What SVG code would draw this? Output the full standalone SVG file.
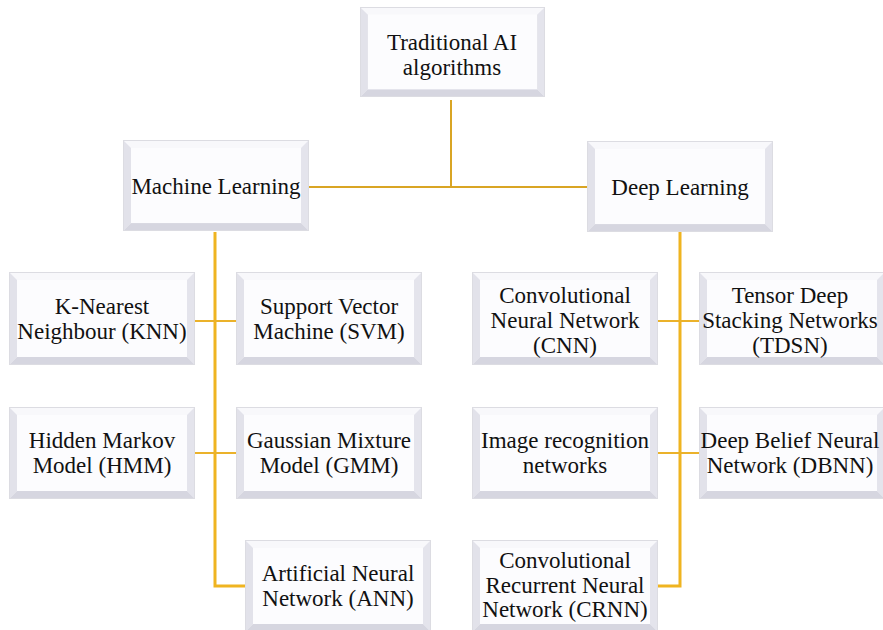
<svg xmlns="http://www.w3.org/2000/svg" xmlns:xlink="http://www.w3.org/1999/xlink" width="883" height="630" viewBox="0 0 883 630">
<defs>
<symbol id="bevel" viewBox="0 0 186 92" preserveAspectRatio="none">
<rect x="0.5" y="0.5" width="185" height="91" fill="#fbfbfd" stroke="#dcdce2" stroke-width="1"/>
<polygon points="1,1 185,1 178,8 8,8" fill="#f8f8fb"/>
<polygon points="1,1 8,8 8,84 1,91" fill="#e2e2ea"/>
<polygon points="185,1 185,91 178,84 178,8" fill="#e4e4ec"/>
<polygon points="1,91 8,84 178,84 185,91" fill="#d6d6e0"/>
<rect x="8" y="8" width="170" height="76" fill="#fcfcfe"/>
</symbol>
</defs>
<style>
.t{font-family:'Liberation Serif','Times New Roman',Tinos,'DejaVu Serif',serif;font-size:23px;fill:#111;text-anchor:middle}
.ln{stroke:#EBB22A;fill:none;stroke-width:2}
.tr{stroke:#EFB420;fill:none;stroke-width:3}
</style>
<rect width="883" height="630" fill="#ffffff"/>
<g id="connectors">
<line class="ln" x1="451" y1="100" x2="451" y2="187" style="stroke:#D9A524"/>
<line class="ln" x1="309" y1="187" x2="588" y2="187" style="stroke:#D9A524"/>
<polyline class="tr" points="215,232 215,586 245,586"/>
<line class="ln" x1="195" y1="321" x2="236" y2="321"/>
<line class="ln" x1="195" y1="453" x2="236" y2="453"/>
<polyline class="tr" points="680,232 680,586 658,586"/>
<line class="ln" x1="657" y1="321" x2="699" y2="321"/>
<line class="ln" x1="657" y1="453" x2="699" y2="453"/>
</g>
<g class="t" font-family="Liberation Serif, serif">
<g id="traditional">
<use xlink:href="#bevel" x="360" y="7" width="185" height="90"/>
<text x="452" y="50">Traditional AI</text>
<text x="452" y="75">algorithms</text>
</g>
<g id="ml">
<use xlink:href="#bevel" x="123" y="140" width="186" height="91"/>
<text x="216" y="194">Machine Learning</text>
</g>
<g id="dl">
<use xlink:href="#bevel" x="587" y="141" width="186" height="91"/>
<text x="680" y="195">Deep Learning</text>
</g>
<g id="knn">
<use xlink:href="#bevel" x="9" y="272" width="186" height="93"/>
<text x="102" y="314">K-Nearest</text>
<text x="102" y="339">Neighbour (KNN)</text>
</g>
<g id="svm">
<use xlink:href="#bevel" x="236" y="272" width="186" height="93"/>
<text x="329" y="314">Support Vector</text>
<text x="329" y="339">Machine (SVM)</text>
</g>
<g id="hmm">
<use xlink:href="#bevel" x="9" y="407" width="186" height="92"/>
<text x="102" y="448">Hidden Markov</text>
<text x="102" y="473">Model (HMM)</text>
</g>
<g id="gmm">
<use xlink:href="#bevel" x="236" y="407" width="186" height="92"/>
<text x="329" y="448">Gaussian Mixture</text>
<text x="329" y="473">Model (GMM)</text>
</g>
<g id="ann">
<use xlink:href="#bevel" x="245" y="540" width="186" height="92"/>
<text x="338" y="581">Artificial Neural</text>
<text x="338" y="606">Network (ANN)</text>
</g>
<g id="cnn">
<use xlink:href="#bevel" x="472" y="272" width="186" height="93"/>
<text x="565" y="303">Convolutional</text>
<text x="565" y="328">Neural Network</text>
<text x="565" y="353">(CNN)</text>
</g>
<g id="tdsn">
<use xlink:href="#bevel" x="699" y="272" width="186" height="93"/>
<text x="790" y="303">Tensor Deep</text>
<text x="790" y="328">Stacking Networks</text>
<text x="790" y="353">(TDSN)</text>
</g>
<g id="irn">
<use xlink:href="#bevel" x="472" y="407" width="186" height="92"/>
<text x="565" y="448">Image recognition</text>
<text x="565" y="473">networks</text>
</g>
<g id="dbnn">
<use xlink:href="#bevel" x="699" y="407" width="186" height="92"/>
<text x="790" y="448">Deep Belief Neural</text>
<text x="790" y="473">Network (DBNN)</text>
</g>
<g id="crnn">
<use xlink:href="#bevel" x="472" y="540" width="186" height="92"/>
<text x="565" y="568">Convolutional</text>
<text x="565" y="593">Recurrent Neural</text>
<text x="565" y="617">Network (CRNN)</text>
</g>
</g>
</svg>
